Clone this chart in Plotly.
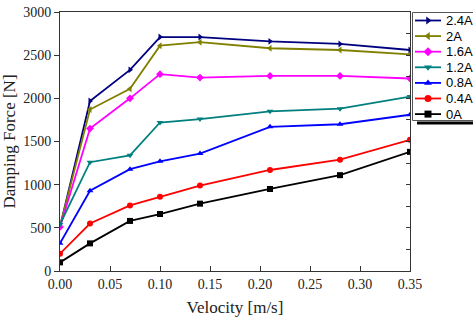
import plotly.graph_objects as go

velocity = [0.0, 0.03, 0.07, 0.10, 0.14, 0.21, 0.28, 0.35]
series_names = ["2.4A", "2A", "1.6A", "1.2A", "0.8A", "0.4A", "0A"]
f_24 = [510, 1970, 2330, 2710, 2710, 2660, 2630, 2560]
f_20 = [520, 1870, 2110, 2610, 2650, 2580, 2560, 2510]
f_16 = [510, 1650, 2000, 2280, 2240, 2260, 2260, 2230]
f_12 = [540, 1260, 1340, 1720, 1760, 1850, 1880, 2020]
f_08 = [320, 930, 1180, 1270, 1360, 1670, 1700, 1810]
f_04 = [200, 550, 760, 860, 990, 1170, 1290, 1520]
f_00 = [100, 320, 580, 660, 780, 950, 1110, 1380]
series_values = [f_24, f_20, f_16, f_12, f_08, f_04, f_00]
colors = ["#00007f", "#7f7f00", "#ff00ff", "#007f7f", "#0000ff", "#ff0000", "#000000"]
symbols = ["triangle-right", "triangle-left", "diamond", "triangle-down", "triangle-up", "circle", "square"]

serif = "Liberation Serif, Times New Roman, serif"
sans = "Liberation Sans, Arial, sans-serif"

W, H = 473, 324
L, T, B = 60, 12, 53
PW = W - L            # paper width (right margin 0)
PLOT_RIGHT = 410      # right edge of the main plot in px
LEG_LEFT = 412

fig = go.Figure()
for name, vals, c, s in zip(series_names, series_values, colors, symbols):
    fig.add_trace(go.Scatter(x=velocity, y=vals, name=name, mode="lines+markers",
                             line=dict(color=c, width=1.8),
                             marker=dict(symbol=s, size=6, color=c),
                             showlegend=False))

# invisible trace for right-side ticks
fig.add_trace(go.Scatter(x=[0], y=[0], yaxis="y2", showlegend=False,
                         mode="markers", marker=dict(opacity=0), hoverinfo="skip"))

# hand-built legend in its own pixel-scaled axes
row_h = 15.6
row0 = 20.5
annotations = []
for i, (name, c, s) in enumerate(zip(series_names, colors, symbols)):
    yy = row0 + row_h * i
    fig.add_trace(go.Scatter(x=[415, 428, 441], y=[yy, yy, yy], xaxis="x3", yaxis="y3",
                             mode="lines", line=dict(color=c, width=1.8),
                             showlegend=False, hoverinfo="skip", cliponaxis=False))
    fig.add_trace(go.Scatter(x=[428], y=[yy], xaxis="x3", yaxis="y3",
                             mode="markers", marker=dict(symbol=s, size=7, color=c),
                             showlegend=False, hoverinfo="skip", cliponaxis=False))
    annotations.append(dict(x=444, y=yy, xref="x3", yref="y3", text=name,
                            showarrow=False, xanchor="left", yanchor="middle",
                            font=dict(family=sans, size=13, color="#000")))

fig.update_layout(
    width=W, height=H,
    margin=dict(l=L, r=0, t=T, b=B, autoexpand=False),
    plot_bgcolor="rgba(0,0,0,0)", paper_bgcolor="white",
    font=dict(family=serif, size=14, color="#222"),
    xaxis=dict(domain=[0, (PLOT_RIGHT - L) / PW], range=[0, 0.35],
               tickvals=[0, 0.05, 0.1, 0.15, 0.2, 0.25, 0.3, 0.35],
               ticktext=["0.00", "0.05", "0.10", "0.15", "0.20", "0.25", "0.30", "0.35"],
               tickfont=dict(family=serif, size=14, color="#222"),
               ticks="inside", ticklen=5, tickcolor="#333", showline=True, linecolor="#333",
               linewidth=1, mirror=True, showgrid=False, zeroline=False,
               title=dict(text="Velocity [m/s]", font=dict(family=serif, size=17), standoff=10)),
    yaxis=dict(range=[0, 3000], tickvals=[0, 500, 1000, 1500, 2000, 2500, 3000],
               tickfont=dict(family=serif, size=14, color="#222"),
               ticks="outside", ticklen=5, tickcolor="#333", showline=True, linecolor="#333",
               linewidth=1, mirror=True, showgrid=False, zeroline=False,
               title=dict(text="Damping Force [N]", font=dict(family=serif, size=17), standoff=8)),
    yaxis2=dict(range=[0, 3000], overlaying="y", side="right", anchor="x",
                showticklabels=False,
                tickvals=[250 * i for i in range(13)], ticks="inside", ticklen=4,
                tickcolor="#333", showgrid=False, zeroline=False, showline=False),
    xaxis3=dict(domain=[(LEG_LEFT - L) / PW, 1], range=[LEG_LEFT, W], visible=False,
                fixedrange=True),
    yaxis3=dict(domain=[(H - B - 125) / (H - T - B), 1], range=[125, T], anchor="x3",
                visible=False, fixedrange=True),
    annotations=annotations,
    shapes=[
        dict(type="rect", xref="x3", yref="y3", x0=LEG_LEFT + 0.5, x1=W + 2, y0=T + 0.5, y1=120.5,
             line=dict(width=1, color="#555"), fillcolor="rgba(0,0,0,0)", layer="above"),
        dict(type="line", xref="x3", yref="y3", x0=417, x1=W, y0=123, y1=123,
             line=dict(width=3, color="black"), layer="above"),
    ],
)
fig.write_html("out.html")
